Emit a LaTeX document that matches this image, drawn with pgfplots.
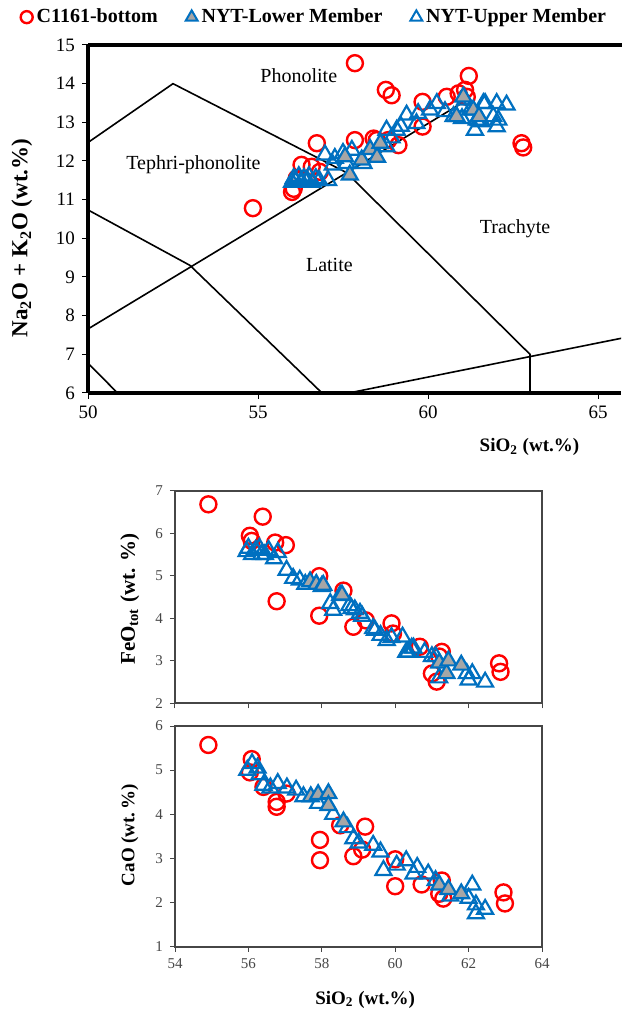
\documentclass[border=0pt]{standalone}
\usepackage{pgfplots}
\pgfplotsset{compat=1.18}
\usepackage{fontspec}
\setmainfont{Liberation Serif}

\definecolor{ptred}{RGB}{255,0,0}
\definecolor{ptblue}{RGB}{0,112,192}
\definecolor{ptgray}{RGB}{166,166,166}
\definecolor{axgray}{RGB}{70,70,70}

\pgfplotsset{
  c1161/.style={only marks, mark=o, color=ptred, mark size=4pt, mark options={line width=1.2pt}},
  nytup/.style={only marks, mark=triangle, color=ptblue, mark size=4.6pt, mark options={line width=1.1pt}},
  nytlow/.style={only marks, mark=triangle*, color=ptblue, mark size=4.6pt, mark options={line width=1.1pt, draw=ptblue, fill=ptgray}},
  tas/.style={black, line width=0.8pt, no marks},
  lowerbox/.style={
    scale only axis, anchor=north west, width=183.5pt, clip mode=individual,
    xmin=54, xmax=64, xtick={54,56,...,64},
    axis line style={axgray, line width=1pt},
    tick align=outside, tick pos=left, major tick length=2.5pt,
    tick style={axgray, line width=0.5pt},
    ticklabel style={font=\fontsize{7.5}{9}\selectfont, text=axgray},
    /pgf/number format/assume math mode=true,
  },
}

\begin{document}
\begin{tikzpicture}
\path[use as bounding box] (0,0) rectangle (310.5pt,-508.5pt);

% TAS diagram
\begin{axis}[
  at={(44pt,-22.5pt)}, anchor=north west, scale only axis,
  width=266.56pt, height=174pt, clip mode=individual,
  xmin=50, xmax=65.68, ymin=6, ymax=15,
  xtick={50,55,60,65}, ytick={6,...,15},
  axis x line*=bottom, axis y line*=left,
  axis line style={-, line width=1.6pt},
  tick align=outside, major tick length=3pt,
  tick style={black, line width=0.5pt},
  ticklabel style={font=\fontsize{9.5}{11}\selectfont},
  /pgf/number format/assume math mode=true,
  legend columns=3,
  legend style={at={(axis description cs:-0.127,1.08)}, anchor=west,
    draw=none, fill=none, inner sep=0pt,
    font=\bfseries\fontsize{10}{12}\selectfont,
    /tikz/every even column/.append style={column sep=12pt}},
  legend image code/.code={\draw[#1] plot coordinates {(0.12cm,0cm)};},
]
\addlegendimage{only marks, mark=o, color=ptred, mark size=3pt, mark options={line width=1.2pt}}
\addlegendentry{C1161-bottom}
\addlegendimage{only marks, mark=triangle*, color=ptblue, mark size=3.4pt, mark options={line width=1pt, draw=ptblue, fill=ptgray}}
\addlegendentry{NYT-Lower Member}
\addlegendimage{only marks, mark=triangle, color=ptblue, mark size=3.4pt, mark options={line width=1pt}}
\addlegendentry{NYT-Upper Member}

\addplot[tas, forget plot] coordinates {(45,5) (61,13.5)};
\addplot[tas, forget plot] coordinates {(52,5) (69,8)};
\addplot[tas, forget plot] coordinates {(45,9.4) (49.4,7.3) (52,5)};
\addplot[tas, forget plot] coordinates {(48.4,11.5) (53,9.3) (57,5.9)};
\addplot[tas, forget plot] coordinates {(41,7) (52.5,14) (57.6,11.7) (63,7) (63,0)};

\addplot[c1161, forget plot] coordinates {
(54.85,10.78) (56.0,11.2) (56.05,11.28) (56.14,11.55) (56.28,11.9) (56.58,11.85)
(56.73,12.46) (56.82,11.72) (57.85,14.53) (57.85,12.54) (58.4,12.58) (58.49,12.54)
(58.83,12.54) (59.13,12.41) (58.76,13.84) (58.93,13.7) (59.84,13.53) (59.84,12.89)
(60.55,13.66) (60.9,13.75) (61.09,13.84) (61.14,13.66) (61.2,14.2) (62.75,12.46)
(62.8,12.35)};

\addplot[nytup, forget plot] coordinates {
(56.0,11.45) (56.05,11.55) (56.1,11.5) (56.2,11.6) (56.25,11.45) (56.35,11.55)
(56.45,11.5) (56.5,11.6) (56.6,11.45) (56.7,11.55) (56.8,11.5) (56.97,12.16)
(57.06,11.5) (57.2,11.9) (57.26,12.07) (57.5,12.2) (57.6,11.94) (57.76,12.28)
(58.1,11.94) (58.78,12.37) (58.78,12.8) (58.93,12.6) (59.08,12.8) (59.2,12.9)
(59.37,13.19) (59.66,12.97) (59.71,13.23) (60.06,13.32) (60.26,13.49) (60.5,13.28)
(60.75,13.15) (61.0,13.4) (61.0,13.1) (61.09,13.58) (61.24,13.32) (61.38,12.8)
(61.43,13.06) (61.5,13.05) (61.58,13.02) (61.63,13.49) (61.68,13.49) (61.92,13.15)
(62.02,13.49) (62.02,12.89) (62.07,13.06) (62.31,13.45)};

\addplot[nytlow, forget plot] coordinates {
(57.56,12.11) (57.7,11.64) (58.05,12.03) (58.3,12.3) (58.5,12.1) (58.6,12.46)
(60.84,13.15) (61.04,13.66) (61.33,13.32) (61.5,13.15)};

\draw[line width=1.6pt] (axis description cs:0,1) -- (axis description cs:1.02,1);

\node[font=\fontsize{10}{12}\selectfont] at (axis cs:56.2,14.2) {Phonolite};
\node[font=\fontsize{10}{12}\selectfont] at (axis cs:53.1,11.9) {Tephri-phonolite};
\node[font=\fontsize{10}{12}\selectfont] at (axis cs:57.1,9.3) {Latite};
\node[font=\fontsize{10}{12}\selectfont] at (axis cs:62.56,10.24) {Trachyte};

\node[rotate=90, font=\bfseries\fontsize{11.5}{13}\selectfont] at (axis description cs:-0.124,0.445)
  {Na\textsubscript{2}O + K\textsubscript{2}O (wt.\%)};
\node[font=\bfseries\fontsize{9.5}{11}\selectfont] at (axis description cs:0.828,-0.155)
  {SiO\textsubscript{2} (wt.\%)};
\end{axis}

% FeO
\begin{axis}[lowerbox, at={(87.5pt,-245.35pt)}, height=106.3pt,
  ymin=2, ymax=7, ytick={2,...,7}, xticklabels={}]
\addplot[c1161] coordinates {
(54.91,6.68) (56.04,5.94) (56.09,5.82) (56.39,6.39) (56.73,5.78) (57.02,5.72)
(56.77,4.40) (57.93,4.06) (57.93,4.99) (58.59,4.65) (58.86,3.80) (59.2,3.95)
(59.9,3.88) (59.94,3.64) (60.67,3.33) (61.27,3.21) (61.13,2.51) (61.0,2.7)
(61.2,3.1) (62.83,2.94) (62.87,2.74)};
\addplot[nytup] coordinates {
(55.95,5.57) (56.0,5.65) (56.1,5.5) (56.2,5.6) (56.3,5.65) (56.35,5.5)
(56.45,5.5) (56.55,5.6) (56.7,5.4) (56.8,5.55) (57.04,5.13) (57.22,4.94)
(57.4,4.9) (57.55,4.8) (58.23,4.35) (58.31,4.19) (58.75,4.3) (58.81,4.23)
(58.9,4.2) (59.04,4.12) (59.1,4.05) (59.4,3.76) (59.45,3.72) (59.6,3.6)
(59.77,3.48) (59.9,3.55) (60.2,3.56) (60.3,3.2) (60.35,3.21) (60.45,3.3)
(60.5,3.3) (60.8,3.2) (61.0,3.1) (61.1,3.1) (61.2,2.6) (61.95,2.7)
(62.0,2.55) (62.1,2.7) (62.45,2.5)};
\addplot[nytlow] coordinates {
(57.68,4.86) (57.85,4.8) (58.0,4.75) (58.04,4.78) (58.5,4.54) (58.55,4.55)
(61.2,2.95) (61.4,2.7) (61.45,3.0) (61.8,2.9)};
\node[rotate=90, font=\bfseries\fontsize{10.5}{12}\selectfont] at (axis description cs:-0.123,0.49)
  {FeO\textsubscript{tot} (wt. \%)};
\end{axis}

% CaO
\begin{axis}[lowerbox, at={(87.5pt,-363pt)}, height=110.35pt,
  ymin=1, ymax=6, ytick={1,...,6}]
\addplot[c1161] coordinates {
(54.91,5.57) (56.09,5.25) (56.04,4.95) (56.41,4.62) (56.77,4.28) (56.77,4.17)
(57.04,4.47) (57.95,3.42) (57.95,2.96) (58.5,3.75) (59.18,3.72) (58.86,3.05)
(59.1,3.2) (60.0,2.98) (60.0,2.37) (60.72,2.41) (61.27,2.5) (61.31,2.09)
(61.2,2.2) (62.95,2.23) (62.99,1.98)};
\addplot[nytup] coordinates {
(55.97,5.0) (56.1,5.15) (56.25,5.05) (56.3,4.9) (56.41,4.66) (56.6,4.6)
(56.8,4.7) (57.05,4.6) (57.3,4.55) (57.5,4.4) (57.9,4.25) (58.31,4.0)
(58.7,3.7) (58.86,3.45) (59.0,3.35) (59.4,3.3) (59.6,3.15) (59.68,2.73)
(60.04,2.85) (60.3,2.95) (60.5,2.65) (60.6,2.8) (60.9,2.65) (61.1,2.5)
(61.5,2.15) (62.0,2.1) (62.1,2.4) (62.2,1.95) (62.2,1.75) (62.45,1.85)};
\addplot[nytlow] coordinates {
(57.7,4.4) (57.9,4.45) (58.18,4.47) (58.18,4.2) (58.59,3.83) (61.2,2.4)
(61.45,2.3) (61.8,2.2)};
\node[rotate=90, font=\bfseries\fontsize{9.5}{11}\selectfont] at (axis description cs:-0.123,0.506)
  {CaO (wt.\,\%)};
\node[font=\bfseries\fontsize{9.5}{11}\selectfont] at (axis description cs:0.518,-0.24)
  {SiO\textsubscript{2} (wt.\%)};
\end{axis}
\end{tikzpicture}
\end{document}
